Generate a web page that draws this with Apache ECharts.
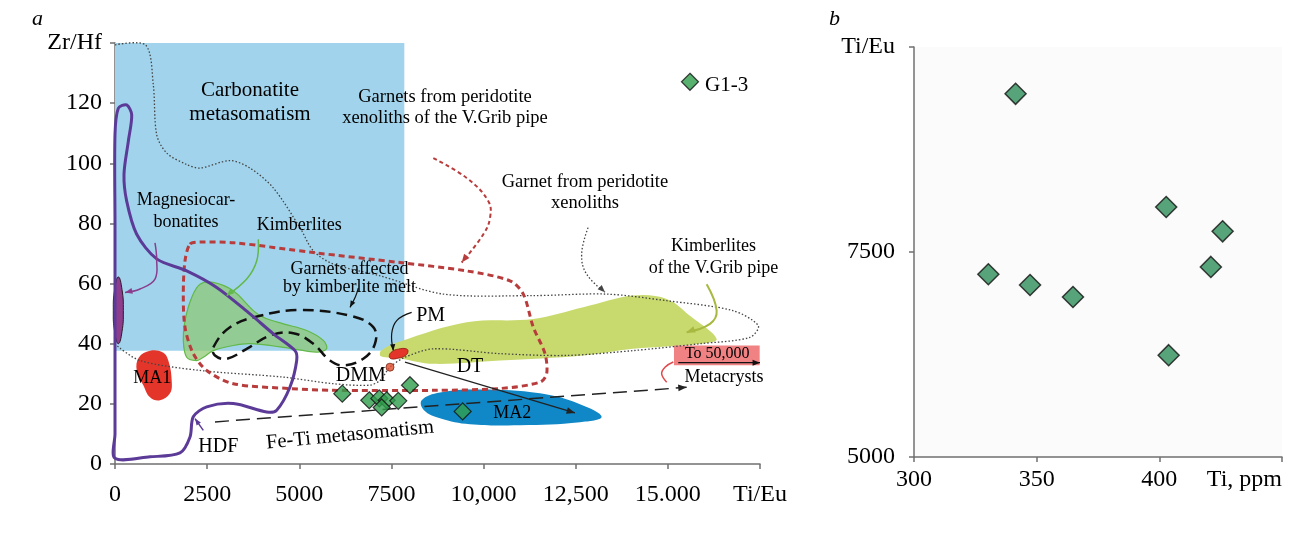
<!DOCTYPE html>
<html><head><meta charset="utf-8">
<script src="https://cdn.jsdelivr.net/npm/echarts@6/dist/echarts.min.js"></script>
<style>html,body{margin:0;padding:0;background:#fff}#c{width:1313px;height:533px}</style>
</head><body><div id="c"></div>
<script>
// ---------- tick labels ----------
const xTicksA = ['0','2500','5000','7500','10,000','12,500','15.000','Ti/Eu'];
const yTicksA = ['0','20','40','60','80','100','120','Zr/Hf'];
const xTicksB = ['300','350','400','Ti, ppm'];
const yTicksB = ['5000','7500','Ti/Eu'];

// ---------- panel a: garnet analyses (Ti/Eu, Zr/Hf) ----------
const garnetTiEu = [6167, 6899, 7170, 7371, 7236, 7686, 8003, 9433];
const garnetZrHf = [23.4, 21.2, 21.8, 21.2, 18.8, 21.0, 26.2, 17.5];
const g13 = [15600, 127.1];
const dmmPoint = [7461, 32.2];

// ---------- panel b: Ti (ppm) vs Ti/Eu ----------
const tiB   = [341.4, 330.3, 347.3, 364.8, 402.8, 425.8, 421.0, 403.8];
const tiEuB = [9429, 7228, 7098, 6952, 8048, 7752, 7318, 6242];

// ---------- panel a: fields and curves (data units) ----------
const carbonatiteField = [[0,37.7],[7850,37.7],[7850,140],[0,140]];
const vGribKimberlite = [[7217,37.7],[7732,40.7],[9542,47.1],[11349,48.2],[12706,52.1],[14062,56.0],[14968,54.9],[15599,49.3],[16324,41.6],[15870,40.0],[14062,38.3],[12706,36.1],[10445,34.4],[8636,33.3],[7732,35.1],[7217,35.8]];
const kimberliteField = [[2306,59.8],[2667,60.4],[3209,57.6],[3752,51.0],[4023,48.8],[4566,46.6],[5201,44.4],[5651,41.1],[5743,38.3],[5472,37.2],[4566,38.8],[3663,40.0],[3209,39.4],[2667,37.7],[2396,35.5],[2216,34.4],[1945,35.5],[1853,41.1],[1899,47.7],[2081,55.4]];
const ma1Field = [[950,37.7],[1302,37.1],[1446,34.4],[1538,27.8],[1492,23.5],[1221,21.2],[950,22.2],[768,26.2],[589,31.1],[651,35.5]];
const ma2Field = [[8321,21.2],[8817,23.8],[9902,24.8],[11530,23.5],[12616,19.9],[13204,15.7],[12616,13.9],[10988,12.9],[9631,13.2],[8817,15.2],[8383,17.9]];
const magnesioField = [[90,62.2],[190,58],[226,51],[190,44],[90,40],[-10,44],[-46,51],[-10,58]];
const pmField = [[7442,36.0],[7520,37.4],[7686,38.2],[7900,38.3],[7950,37.4],[7870,36.0],[7686,35.2],[7490,35.0]];
const xenolithCurve = [[0,139.4],[833,139.3],[1039,126.1],[1131,109.5],[1403,103.4],[1945,99.6],[2306,98.4],[3120,100.9],[3663,98.4],[4295,91.8],[5019,78.6],[5380,70.9],[5923,66.5],[7189,62.6],[8907,56.5],[11340,56.0],[13340,56.5],[14968,54.3],[16766,51.0],[17453,46.0],[17228,42.1],[15871,40.0],[14053,37.7],[12255,36.1],[10445,36.7],[8636,38.3],[7868,35.5],[7461,32.2],[7190,27.8],[6900,26.2],[5923,26.7],[4566,28.9],[2306,31.1],[678,34.4],[46,39.4]];
const hdfCurve = [[0,1.9],[950,2.4],[1763,3.7],[2035,9.0],[2124,15.7],[2488,19.0],[3210,20.1],[4116,17.3],[4387,17.9],[4748,25.6],[4930,34.4],[4883,37.7],[4295,43.3],[3663,49.9],[2759,58.7],[1945,64.2],[1131,68.2],[589,76.4],[317,87.4],[244,96.3],[361,107.3],[453,116.1],[317,119.4],[90,118.3],[0,109.6],[0,80],[0,40],[0,10]];
const vGribGarnetLoop = [[2035,73.1],[2306,73.8],[3210,73.6],[5380,70.3],[7732,67.0],[9542,64.2],[10716,60.9],[11077,56.5],[11349,45.5],[11666,36.7],[11712,30.0],[11530,27.2],[10445,25.1],[8636,24.5],[5923,24.5],[4748,25.1],[3210,26.7],[2488,31.1],[2124,36.7],[1899,45.5],[1853,56.5],[1899,67.5]];
const kimbMeltLoop = [[2667,38.8],[3120,45.5],[3934,49.3],[5019,51.2],[6376,49.3],[7008,45.5],[7054,40.0],[6736,35.0],[6194,32.8],[5833,34.4],[5380,40.0],[4837,43.5],[4206,42.7],[3573,38.3],[3030,35.0],[2713,36.1]];
const to50000Box = [[15166,39.4],[17491,39.4],[17491,32.8],[15166,32.8]];

// ---------- arrows (data units) ----------
const dtArrow = [[7868,33.9],[12480,17.0]];
const feTiArrow = [[2713,14.0],[15509,25.5]];
const pmArrow = [[8049,50.4],[7643,47.7],[7507,43.3],[7551,37.7]];
const meltArrow = [[6600,58.5],[6520,55.5],[6376,52.1]];
const hdfArrow = [[2396,11.2],[2170,15.1]];
const magnesioArrow = [[1085,73.5],[1130,68],[1085,61.5],[678,58.2],[271,57.0]];
const kimbArrow = [[3888,74.7],[3844,67.5],[3573,61.5],[3030,56.0]];
const vGribArrow = [[16053,59.8],[16324,51.0],[16143,46.6],[15509,43.8]];
const vGribGarnetArrow = [[8636,101.7],[9542,95.1],[10130,87.4],[10176,81.9],[9994,76.4],[9406,67.0]];
const xenolithArrow = [[12835,78.6],[12661,69.8],[12797,63.1],[13294,57.1]];
const to50000Arrow = [[15282,33.7],[17500,33.7]];
const metacrystHook = [[14968,27.2],[14832,30.0],[14922,32.2],[15147,33.9]];

// ---------- annotation texts ----------
const annText = ['Carbonatite\nmetasomatism','Garnets from peridotite\nxenoliths of the V.Grib pipe','Garnet from peridotite\nxenoliths','Magnesiocar-\nbonatites','Kimberlites','Kimberlites\nof the V.Grib pipe','Garnets affected\nby kimberlite melt','PM','DMM','DT','MA1','MA2','HDF','Fe-Ti metasomatism','G1-3','To 50,000','Metacrysts'];
const annPos = [[3663,120.2],[8953,118.5],[12751,90.2],[1926,84],[5000,79.5],[16237,68.9],[6362,61.9],[8565,49.3],[6666,29.5],[9631,32.4],[1012,28.4],[10779,17.0],[2803,5.7],[6376,9.6],[16007,126],[16341,36.6],[16522,28.9]];
const annSize = [21,18.5,18.5,18,18,18,18,20,20,20,18,18,20,20.5,21,16,18];
const annLine = [24,21,21,22,20,22,18,20,20,20,18,18,20,20,21,16,18];
const annRot = [0,0,0,0,0,0,0,0,0,0,0,0,0,5.5,0,0,0];
const annAlign = ['center','center','center','center','center','center','center','center','center','center','center','center','center','center','left','center','center'];

const SERIF = "'Liberation Serif','Times New Roman',serif";

function arrowHead(p0, p1, s) {
  const a = Math.atan2(p1[1]-p0[1], p1[0]-p0[0]);
  const a1 = a + Math.PI - 0.38, a2 = a + Math.PI + 0.38;
  return [p1, [p1[0]+s*Math.cos(a1), p1[1]+s*Math.sin(a1)], [p1[0]+s*Math.cos(a2), p1[1]+s*Math.sin(a2)]];
}

function shape(pts, o) {
  return {
    type: 'custom', coordinateSystem: 'cartesian2d', xAxisIndex: 0, yAxisIndex: 0,
    silent: true, clip: false, z: o.z || 2,
    data: [pts[0]],
    renderItem: function (params, api) {
      const p = pts.map(q => api.coord(q));
      const children = [{
        type: o.closed ? 'polygon' : 'polyline',
        shape: { points: p, smooth: o.smooth || 0 },
        style: { fill: o.fill || null, stroke: o.stroke || null, lineWidth: o.width || 1, lineDash: o.dash || null }
      }];
      if (o.arrow) {
        const n = p.length;
        children.push({ type: 'polygon', shape: { points: arrowHead(p[n-2], p[n-1], o.arrow) }, style: { fill: o.arrowColor || o.stroke } });
      }
      return { type: 'group', children };
    }
  };
}

const labelSeries = {
  type: 'custom', coordinateSystem: 'cartesian2d', xAxisIndex: 0, yAxisIndex: 0,
  silent: true, clip: false, z: 10,
  data: annPos,
  renderItem: function (params, api) {
    const i = params.dataIndex;
    const c = api.coord(annPos[i]);
    return {
      type: 'text', x: c[0], y: c[1], rotation: annRot[i] * Math.PI / 180,
      style: { text: annText[i], fontSize: annSize[i], fontFamily: SERIF, fill: '#000', align: annAlign[i], verticalAlign: 'middle', lineHeight: annLine[i] }
    };
  }
};

const axisCol = '#707070';
function valAxis(grid, min, max, step, labels, margin, extra) {
  return Object.assign({
    type: 'value', gridIndex: grid, min: min, max: max, interval: step,
    axisLine: { show: true, onZero: false, lineStyle: { color: axisCol, width: 1.5 } },
    axisTick: { show: true, length: 5, lineStyle: { color: axisCol, width: 1.5 } },
    splitLine: { show: false },
    axisLabel: { formatter: v => labels[Math.round((v - min) / step)], fontSize: 24, fontFamily: SERIF, color: '#000', margin: margin }
  }, extra || {});
}

const chart = echarts.init(document.getElementById('c'), null, { renderer: 'canvas' });
const series = [
  shape(carbonatiteField, { closed: true, fill: '#a1d4ec', z: 1 }),
  shape(vGribKimberlite, { closed: true, fill: '#c8da6e', smooth: 0.35, z: 2 }),
  shape(kimberliteField, { closed: true, fill: 'rgba(140,200,110,0.7)', stroke: '#62b848', width: 1.2, smooth: 0.35, z: 2 }),
  shape(ma1Field, { closed: true, fill: '#e4352b', smooth: 0.4, z: 2 }),
  shape(ma2Field, { closed: true, fill: '#1087c6', smooth: 0.4, z: 2 }),
  shape(to50000Box, { closed: true, fill: '#f08284', z: 2 }),
  shape(magnesioField, { closed: true, fill: '#8e3d8c', stroke: '#2a1a2a', width: 1, smooth: 0.5, z: 3 }),
  shape(xenolithCurve, { stroke: '#444', width: 1.3, dash: [1.5, 2], smooth: 0.3, z: 3 }),
  shape(xenolithArrow, { stroke: '#444', width: 1.3, dash: [1.5, 2], smooth: 0.4, arrow: 8, z: 3 }),
  shape(vGribGarnetLoop, { closed: true, stroke: '#b83c3c', width: 3, dash: [6, 4], smooth: 0.3, z: 4 }),
  shape(vGribGarnetArrow, { stroke: '#b83c3c', width: 2, dash: [4, 3], smooth: 0.4, arrow: 9, z: 4 }),
  shape(kimbMeltLoop, { closed: true, stroke: '#111', width: 2.5, dash: [11, 6], smooth: 0.4, z: 4 }),
  shape(hdfCurve, { closed: true, stroke: '#5b3b97', width: 3, smooth: 0.3, z: 4 }),
  shape(hdfArrow, { stroke: '#5b3b97', width: 1.5, arrow: 7, z: 4 }),
  shape(magnesioArrow, { stroke: '#8a3d8c', width: 1.5, smooth: 0.4, arrow: 8, z: 4 }),
  shape(kimbArrow, { stroke: '#62b848', width: 1.5, smooth: 0.4, arrow: 8, z: 4 }),
  shape(vGribArrow, { stroke: '#a8b840', width: 2, smooth: 0.4, arrow: 9, z: 4 }),
  shape(meltArrow, { stroke: '#111', width: 1.2, smooth: 0.4, arrow: 7, z: 4 }),
  shape(pmArrow, { stroke: '#111', width: 1.2, smooth: 0.4, arrow: 7, z: 4 }),
  shape(pmField, { closed: true, fill: '#e4352b', stroke: '#8a1a10', width: 0.8, smooth: 0.5, z: 5 }),
  shape(dtArrow, { stroke: '#222', width: 1.2, arrow: 9, z: 5 }),
  shape(feTiArrow, { stroke: '#222', width: 1.5, dash: [14, 7], arrow: 9, z: 5 }),
  shape(to50000Arrow, { stroke: '#111', width: 1.3, arrow: 8, z: 5 }),
  shape(metacrystHook, { stroke: '#e0484b', width: 1.5, smooth: 0.4, z: 5 }),
  {
    type: 'scatter', xAxisIndex: 0, yAxisIndex: 0, z: 6, silent: true,
    symbol: 'circle', symbolSize: 8,
    itemStyle: { color: '#e04a2a', borderColor: '#7a2a1a', borderWidth: 1 },
    data: [dmmPoint]
  },
  {
    type: 'scatter', xAxisIndex: 0, yAxisIndex: 0, z: 7, silent: true,
    symbol: 'diamond', symbolSize: 17,
    itemStyle: { color: '#2f9e4c', borderColor: '#111', borderWidth: 1.2 },
    data: garnetTiEu.map((v, i) => [v, garnetZrHf[i]]).concat([g13])
  },
  labelSeries,
  {
    type: 'scatter', xAxisIndex: 1, yAxisIndex: 1, z: 7, silent: true,
    symbol: 'diamond', symbolSize: 21,
    itemStyle: { color: '#2f8f5a', borderColor: '#111', borderWidth: 1.5 },
    data: tiB.map((v, i) => [v, tiEuB[i]])
  }
];

chart.setOption({
  animation: false,
  backgroundColor: '#fff',
  title: [
    { text: 'a', left: 27, top: 3, textStyle: { fontSize: 22, fontStyle: 'italic', fontWeight: 'normal', fontFamily: SERIF, color: '#000' } },
    { text: 'b', left: 824, top: 3, textStyle: { fontSize: 22, fontStyle: 'italic', fontWeight: 'normal', fontFamily: SERIF, color: '#000' } }
  ],
  grid: [
    { left: 115, top: 43, width: 645, height: 421 },
    { left: 914, top: 47, width: 368, height: 410, show: true, backgroundColor: '#fbfbfb', borderWidth: 0 }
  ],
  xAxis: [
    valAxis(0, 0, 17500, 2500, xTicksA, 19),
    valAxis(1, 300, 450, 50, xTicksB, 11, {})
  ],
  yAxis: [
    valAxis(0, 0, 140, 20, yTicksA, 13),
    valAxis(1, 5000, 10000, 2500, yTicksB, 19)
  ],
  series: series
});
chart.setOption({ xAxis: [{}, { axisLabel: { alignMaxLabel: 'right' } }] });
</script>
</body></html>
